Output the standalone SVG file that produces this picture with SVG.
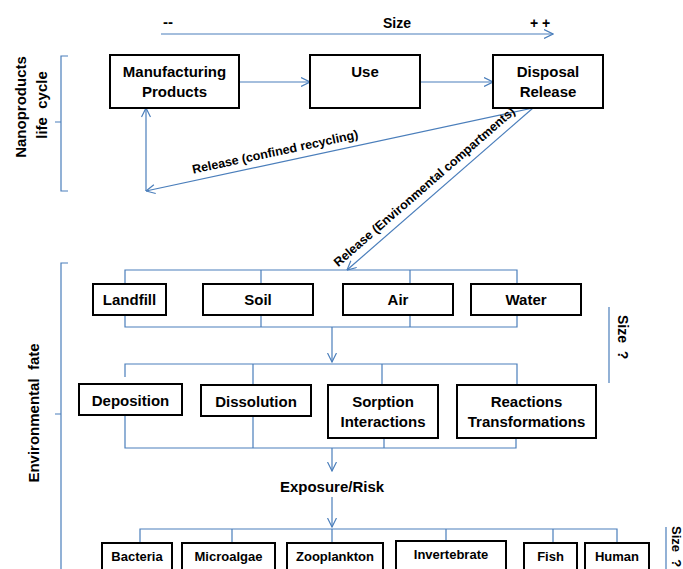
<svg xmlns="http://www.w3.org/2000/svg" width="683" height="569" viewBox="0 0 683 569">
<style>
text{font-family:"Liberation Sans",Arial,sans-serif;font-weight:bold;fill:#000}
.t15{font-size:15px;text-anchor:middle}
.t13{font-size:13px;text-anchor:middle}
.t12{font-size:12.5px;text-anchor:middle}
.box{fill:#fff;stroke:#000;stroke-width:2}
.ln{fill:none;stroke:#4A7EBB;stroke-width:1.2}
</style>
<defs>
<marker id="ah" viewBox="0 0 10 10" refX="9.5" refY="5" markerWidth="10" markerHeight="10" markerUnits="userSpaceOnUse" orient="auto">
<path d="M0.5,0.5 L9.5,5 L0.5,9.5" fill="none" stroke="#4A7EBB" stroke-width="1.2"/>
</marker>
</defs>
<rect width="683" height="569" fill="#fff"/>

<g id="size-scale">
<text x="168" y="27" style="font-size:15px;text-anchor:middle">--</text>
<text x="397" y="28" style="font-size:14px;text-anchor:middle">Size</text>
<text x="540" y="28" style="font-size:14px;text-anchor:middle">+ +</text>
</g>

<g id="connectors">
<path class="ln" d="M161,34 H553" marker-end="url(#ah)"/>
<path class="ln" d="M240,82 H310" marker-end="url(#ah)"/>
<path class="ln" d="M420,82 H493" marker-end="url(#ah)"/>
<path class="ln" d="M533,108 L146,191" marker-end="url(#ah)"/>
<path class="ln" d="M146,191 V108" marker-end="url(#ah)"/>
<path class="ln" d="M533,108 L347,270" marker-end="url(#ah)"/>
<path class="ln" d="M125,284 V270 H517 V284 M261,270 V284 M410,270 V284"/>
<path class="ln" d="M125,315 V327 H517 V315 M261,315 V327 M410,315 V327"/>
<path class="ln" d="M332,327 V362" marker-end="url(#ah)"/>
<path class="ln" d="M125,377 V364 H517 V385 M253,364 V385 M382,364 V385"/>
<path class="ln" d="M125,415 V448 H516 V438 M253,416 V448 M384,438 V448"/>
<path class="ln" d="M332,448 V471" marker-end="url(#ah)"/>
<path class="ln" d="M332,497 V527" marker-end="url(#ah)"/>
<path class="ln" d="M140,543 V529 H617 V543 M232,529 V543 M332,529 V543 M446,529 V541 M553,529 V543"/>
<path class="ln" d="M609,307 V383"/>
<path class="ln" d="M666,527 V569"/>
<path class="ln" d="M68,56 H61 V191 H68 M61,122 H55"/>
<path class="ln" d="M68,263 H61 V569 M61,414 H55"/>
</g>

<g id="edge-labels">
<text class="t12" transform="translate(276,156) rotate(-12.1)">Release (confined recycling)</text>
<text class="t12" transform="translate(427,190) rotate(-41)">Release (Environmental compartments)</text>
<text x="332" y="492" class="t15">Exposure/Risk</text>
</g>

<g id="side-labels">
<text class="t15" transform="translate(26,107) rotate(-90)">Nanoproducts</text>
<text class="t15" transform="translate(47,105) rotate(-90)" xml:space="preserve">life  cycle</text>
<text class="t15" transform="translate(39,413) rotate(-90)" xml:space="preserve">Environmental  fate</text>
<text transform="translate(618,315) rotate(90)" style="font-size:14px" xml:space="preserve">Size  ?</text>
<text transform="translate(672,526) rotate(90)" style="font-size:13px" xml:space="preserve">Size  ?</text>
</g>

<g id="n-manufacturing"><rect class="box" x="110" y="55" width="129" height="53"/><text class="t15" x="174.5" y="77">Manufacturing</text><text class="t15" x="174.5" y="97">Products</text></g>
<g id="n-use"><rect class="box" x="310" y="55" width="110" height="53"/><text class="t15" x="365" y="77">Use</text></g>
<g id="n-disposal"><rect class="box" x="493" y="55" width="110" height="53"/><text class="t15" x="548" y="77">Disposal</text><text class="t15" x="548" y="97">Release</text></g>

<g id="n-landfill"><rect class="box" x="93" y="284" width="73" height="31"/><text class="t15" x="129.5" y="305">Landfill</text></g>
<g id="n-soil"><rect class="box" x="203" y="284" width="110" height="31"/><text class="t15" x="258" y="305">Soil</text></g>
<g id="n-air"><rect class="box" x="343" y="284" width="110" height="31"/><text class="t15" x="398" y="305">Air</text></g>
<g id="n-water"><rect class="box" x="471" y="284" width="110" height="31"/><text class="t15" x="526" y="305">Water</text></g>

<g id="n-deposition"><rect class="box" x="79" y="384" width="103" height="31"/><text class="t15" x="130.5" y="406">Deposition</text></g>
<g id="n-dissolution"><rect class="box" x="201" y="385" width="110" height="31"/><text class="t15" x="256" y="407">Dissolution</text></g>
<g id="n-sorption"><rect class="box" x="328" y="385" width="110" height="53"/><text class="t15" x="383" y="407">Sorption</text><text class="t15" x="383" y="427">Interactions</text></g>
<g id="n-reactions"><rect class="box" x="457" y="385" width="139" height="53"/><text class="t15" x="526.5" y="407">Reactions</text><text class="t15" x="526.5" y="427">Transformations</text></g>

<g id="n-bacteria"><rect class="box" x="102" y="543" width="70" height="40"/><text class="t13" x="137" y="561">Bacteria</text></g>
<g id="n-microalgae"><rect class="box" x="182" y="543" width="93" height="40"/><text class="t13" x="228.5" y="561">Microalgae</text></g>
<g id="n-zooplankton"><rect class="box" x="287" y="543" width="96" height="40"/><text class="t13" x="335" y="561">Zooplankton</text></g>
<g id="n-invertebrate"><rect class="box" x="396" y="541" width="110" height="40"/><text class="t13" x="451" y="559">Invertebrate</text></g>
<g id="n-fish"><rect class="box" x="524" y="543" width="53" height="40"/><text class="t13" x="550.5" y="561">Fish</text></g>
<g id="n-human"><rect class="box" x="585" y="543" width="64" height="40"/><text class="t13" x="617" y="561">Human</text></g>
</svg>
